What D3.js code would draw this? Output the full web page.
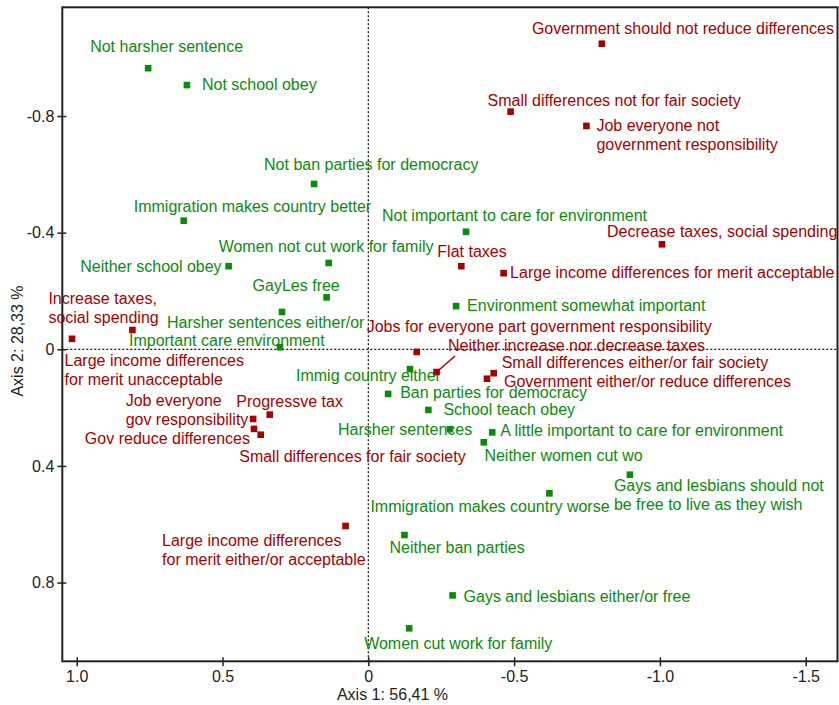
<!DOCTYPE html>
<html>
<head>
<meta charset="utf-8">
<script src="https://cdn.jsdelivr.net/npm/d3@7/dist/d3.min.js"></script>
<style>
  html, body { margin: 0; padding: 0; background: #fff; }
  svg { display: block; }
  text { font-family: "Liberation Sans", Arial, sans-serif; }
</style>
</head>
<body>
<svg id="chart" width="839" height="705"></svg>
<script>
// ---------- data ----------
const greenLabels = [
  ["Not harsher sentence"],
  ["Not school obey"],
  ["Not ban parties for democracy"],
  ["Immigration makes country better"],
  ["Neither school obey"],
  ["Women not cut work for family"],
  ["GayLes free"],
  ["Harsher sentences either/or"],
  ["Important care environment"],
  ["Not important to care for environment"],
  ["Environment somewhat important"],
  ["Immig country either"],
  ["Ban parties for democracy"],
  ["School teach obey"],
  ["Harsher sentences"],
  ["A little important to care for environment"],
  ["Neither women cut wo"],
  ["Gays and lesbians should not", "be free to live as they wish"],
  ["Immigration makes country worse"],
  ["Neither ban parties"],
  ["Gays and lesbians either/or free"],
  ["Women cut work for family"]
];
const greenAxis1 = [0.755, 0.622, 0.186, 0.633, 0.479, 0.136, 0.143, 0.296, 0.303, -0.335, -0.301,
                    -0.143, -0.068, -0.206, -0.280, -0.425, -0.396, -0.897, -0.621, -0.124, -0.289, -0.140];
const greenAxis2 = [-0.964, -0.906, -0.567, -0.441, -0.285, -0.296, -0.178, -0.128, -0.007, -0.403, -0.148,
                    0.068, 0.153, 0.208, 0.274, 0.285, 0.319, 0.430, 0.494, 0.637, 0.844, 0.957];

const redLabels = [
  ["Government should not reduce differences"],
  ["Small differences not for fair society"],
  ["Job everyone not", "government responsibility"],
  ["Decrease taxes, social spending"],
  ["Flat taxes"],
  ["Large income differences for merit acceptable"],
  ["Increase taxes,", "social spending"],
  ["Large income differences", "for merit unacceptable"],
  ["Jobs for everyone part government responsibility"],
  ["Neither increase nor decrease taxes"],
  ["Small differences either/or fair society"],
  ["Government either/or reduce differences"],
  ["Progressve tax"],
  ["Job everyone", "gov responsibility"],
  ["Gov reduce differences"],
  ["Small differences for fair society"],
  ["Large income differences", "for merit either/or acceptable"]
];
const redAxis1 = [-0.801, -0.488, -0.748, -1.007, -0.319, -0.464, 0.809, 1.016, -0.166, -0.234, -0.430,
                  -0.407, 0.338, 0.395, 0.392, 0.369, 0.078];
const redAxis2 = [-1.048, -0.815, -0.766, -0.360, -0.285, -0.261, -0.066, -0.036, 0.009, 0.078, 0.082,
                  0.101, 0.224, 0.239, 0.273, 0.293, 0.606];

const xTicks = [1.0, 0.5, 0, -0.5, -1.0, -1.5];
const yTicks = [-0.8, -0.4, 0, 0.4, 0.8];
const xTitle = "Axis 1: 56,41 %";
const yTitle = "Axis 2: 28,33 %";

// ---------- label layout (pixel offsets from marker: dx, dy of first baseline, anchor) ----------
const greenLayout = [
  [-58, -16, "start"], [15, 5, "start"], [-50, -14, "start"], [-50, -9, "start"], [-7, 6, "end"],
  [-110, -11, "start"], [-74, -6, "start"], [-115, 16, "start"], [-151, -1, "start"], [-84, -11, "start"],
  [11, 5, "start"], [-114, 12, "start"], [12, 4, "start"], [15, 5, "start"], [-112, 6, "start"],
  [8, 3.5, "start"], [0.6, 18.5, "start"], [-16, 16, "start"], [-179, 18.5, "start"], [-15, 18, "start"],
  [11, 6.5, "start"], [-45, 21, "start"]
];
const redLayout = [
  [-70, -9.5, "start"], [-23, -6, "start"], [10, 5, "start"], [-55, -7.5, "start"], [-24, -9.5, "start"],
  [6.5, 5, "start"], [-84, -26.5, "start"], [-7.5, 27, "start"], [-50, -19.5, "start"], [11.5, -21.5, "start"],
  [8, -5, "start"], [17, 8.5, "start"], [-33.5, -8, "start"], [-127.5, -12.5, "start"], [-4, 15.5, "end"],
  [-21.5, 27, "start"], [-183.5, 20, "start"]
];
const leaderRed = 9; // "Neither increase nor decrease taxes" has a leader line

// ---------- chart ----------
const svg = d3.select("#chart");
const L = 62.3, R = 837.5, T = 7.3, B = 661.3;
const x = d3.scaleLinear().domain([1.0494, -1.609]).range([L, R]);
const y = d3.scaleLinear().domain([-1.1728, 1.070]).range([T, B]);

const RED = "#a60000", GREEN = "#0a8c0a", INK = "#222";
const fmt = d => d === 0 ? "0" : d.toFixed(1);

// zero lines
svg.append("line").attr("x1", x(0)).attr("x2", x(0)).attr("y1", T).attr("y2", B)
  .attr("stroke", "#111").attr("stroke-width", 1.2).attr("stroke-dasharray", "2,2");
svg.append("line").attr("x1", L).attr("x2", R).attr("y1", y(0)).attr("y2", y(0))
  .attr("stroke", "#111").attr("stroke-width", 1.2).attr("stroke-dasharray", "2,2");

// axes
const gx = svg.append("g").attr("transform", `translate(0,${B})`)
  .call(d3.axisBottom(x).tickValues(xTicks).tickFormat(fmt).tickSizeInner(5).tickSizeOuter(0).tickPadding(4));
const gy = svg.append("g").attr("transform", `translate(${L},0)`)
  .call(d3.axisLeft(y).tickValues(yTicks).tickFormat(fmt).tickSizeInner(5).tickSizeOuter(0).tickPadding(3));
[gx, gy].forEach(g => {
  g.select(".domain").remove();
  g.selectAll(".tick line").attr("stroke", INK).attr("stroke-width", 1.5);
  g.selectAll(".tick text").attr("fill", INK).style("font-size", "16px")
    .style("font-family", '"Liberation Sans", Arial, sans-serif');
});
gx.selectAll(".tick line").attr("y1", -4);
gy.selectAll(".tick line").attr("x1", 4);

// frame
svg.append("rect").attr("x", L).attr("y", T).attr("width", R - L).attr("height", B - T)
  .attr("fill", "none").attr("stroke", INK).attr("stroke-width", 2);

// axis titles
svg.append("text").attr("x", 392.5).attr("y", 700).attr("text-anchor", "middle")
  .attr("fill", INK).style("font-size", "16px").text(xTitle);
svg.append("text").attr("transform", "translate(23,341) rotate(-90)").attr("text-anchor", "middle")
  .attr("fill", INK).style("font-size", "16px").text(yTitle);

function drawSeries(labels, xs, ys, layout, color, leaderIdx) {
  const data = labels.map((lab, i) => ({ lab, vx: xs[i], vy: ys[i], lay: layout[i], i }));
  const g = svg.append("g");
  if (leaderIdx != null) {
    const d = data[leaderIdx];
    g.append("line").attr("x1", x(d.vx)).attr("y1", y(d.vy))
      .attr("x2", x(d.vx) + 18.5).attr("y2", y(d.vy) - 16)
      .attr("stroke", color).attr("stroke-width", 1.5);
  }
  g.selectAll("rect.m").data(data).join("rect").attr("class", "m")
    .attr("x", d => x(d.vx) - 3.3).attr("y", d => y(d.vy) - 3.3)
    .attr("width", 6.6).attr("height", 6.6).attr("fill", color);
  const t = g.selectAll("text.l").data(data).join("text").attr("class", "l")
    .attr("fill", color).style("font-size", "16px")
    .attr("text-anchor", d => d.lay[2])
    .attr("x", d => x(d.vx) + d.lay[0]).attr("y", d => y(d.vy) + d.lay[1]);
  t.each(function(d) {
    const el = d3.select(this);
    d.lab.forEach((line, k) => {
      el.append("tspan").attr("x", x(d.vx) + d.lay[0]).attr("dy", k === 0 ? 0 : 19).text(line);
    });
  });
}
drawSeries(greenLabels, greenAxis1, greenAxis2, greenLayout, GREEN, null);
drawSeries(redLabels, redAxis1, redAxis2, redLayout, RED, leaderRed);
</script>
</body>
</html>
